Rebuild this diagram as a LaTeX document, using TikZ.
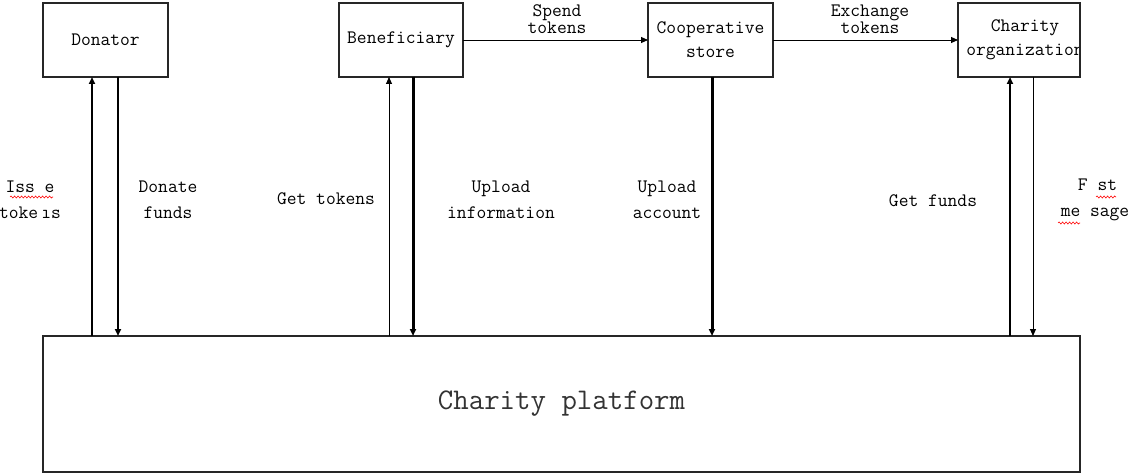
\documentclass[tikz,border=0pt]{standalone}
\usepackage{fontspec}
\usetikzlibrary{arrows.meta,decorations.pathmorphing}
\begin{document}
\begin{tikzpicture}[x=1pt,y=-1pt,
  ent/.style={draw=black!85,line width=1.2pt,inner sep=0pt,outer sep=0pt,minimum height=74pt,font=\ttfamily\fontsize{19}{24}\selectfont,align=center},
  lbl/.style={inner sep=0pt,font=\ttfamily\fontsize{19}{26}\selectfont,align=center},
  toplbl/.style={inner sep=0pt,font=\ttfamily\fontsize{19}{17}\selectfont,align=center},
  flow/.style={draw=black,-{Triangle[length=7pt,width=6pt]}},
  thin/.style={line width=0.9pt},
  mid/.style={line width=2.2pt},
  heavy/.style={line width=3pt},
  squig/.style={draw=red,line width=0.6pt,decorate,decoration={snake,amplitude=1pt,segment length=3.5pt}}]
\useasboundingbox (0,0) rectangle (1132,476);
% entities
\node[ent,minimum width=125pt] (don) at (105.5,40) {Donator};
\node[ent,minimum width=124pt] (ben) at (401,40) {Beneficiary};
\node[ent,minimum width=125pt] (coop) at (710.5,40) {Cooperative\\store};
\begin{scope}
  \clip (958,3) rectangle (1080,77);
  \node[lbl,font=\ttfamily\fontsize{19}{24}\selectfont] (chtxt) at (1025,40) {Charity\\organization};
\end{scope}
\node[ent,minimum width=122pt] (char) at (1019,40) {};
\node[draw=black!85,line width=1.2pt,inner sep=0pt,outer sep=0pt,minimum width=1037pt,minimum height=136pt,
  font=\ttfamily\fontsize{30}{34}\selectfont,text=black!80] (plat) at (561.5,404) {Charity platform};
% horizontal flows
\draw[flow,thin] (ben.east) -- (coop.west);
\draw[flow,thin] (coop.east) -- (char.west);
\node[toplbl] (spend) at (557,19) {Spend\\tokens};
\node[toplbl] (exch) at (870,19) {Exchange\\tokens};
% vertical flows
\draw[flow,mid] ([xshift=49pt]plat.north west) -- ([xshift=49pt]don.south west);
\draw[flow,mid] ([xshift=75pt]don.south west) -- ([xshift=75pt]plat.north west);
\draw[flow,thin] ([xshift=346pt]plat.north west) -- ([xshift=50pt]ben.south west);
\draw[flow,heavy] ([xshift=74pt]ben.south west) -- ([xshift=370pt]plat.north west);
\draw[flow,heavy] ([xshift=64pt]coop.south west) -- ([xshift=669pt]plat.north west);
\draw[flow,mid] ([xshift=967pt]plat.north west) -- ([xshift=52pt]char.south west);
\draw[flow,thin] ([xshift=75pt]char.south west) -- ([xshift=990pt]plat.north west);
% labels
\node[lbl] (issue) at (30,200) {Iss e\\toke\,ıs};
\node[lbl] (donate) at (168,200) {Donate\\funds};
\node[lbl] (gettok) at (326,199) {Get tokens};
\node[lbl] (upinfo) at (501,200) {Upload\\information};
\node[lbl] (upacc) at (667,200) {Upload\\account};
\node[lbl] (getfunds) at (933,201) {Get funds};
\node[lbl,align=left] (post) at (1095,200) {\hspace*{17pt}F\hspace{10pt}st\\me sage};
% spell-check squiggles
\draw[squig] (10,197) -- (53,197);
\draw[squig] (1096,197) -- (1116,197);
\draw[squig] (1058,223) -- (1080,223);
\end{tikzpicture}
\end{document}
